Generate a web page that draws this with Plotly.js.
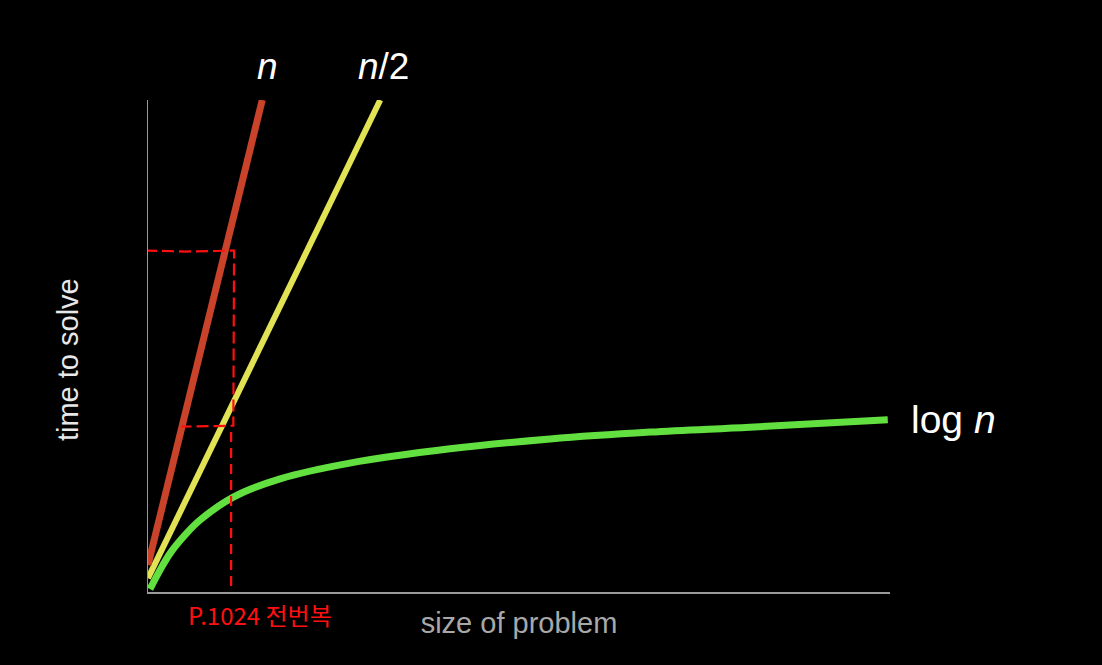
<!DOCTYPE html>
<html>
<head>
<meta charset="utf-8">
<script src="https://cdn.plot.ly/plotly-3.0.1.min.js"></script>
<style>html,body{margin:0;padding:0;background:#000;}#chart{width:1102px;height:665px;}</style>
</head>
<body>
<div id="chart"></div>
<script>
// Linear series (endpoints)
const nX = [0, 15.4];
const nY = [5.5, 100];
const halfX = [0, 31.3];
const halfY = [2.8, 100];
// log n curve
const logX = [0.27, 1.6, 3.0, 5.0, 7.0, 11.5, 17.8, 27.2, 40.7, 54.2, 67.7, 81.1, 99.7];
const logY = [0.6, 4.4, 7.9, 11.6, 14.6, 19.3, 23.0, 26.2, 29.1, 31.1, 32.5, 33.5, 35.0];
// hand-drawn red dashed marks
const markBoxX = [-0.4, 5, 11.6, 11.6, 11.5, 4.5];
const markBoxY = [69.4, 69.2, 69.4, 36, 33.8, 33.6];
const markDropX = [11.2, 11.2];
const markDropY = [32.5, 0];
const labels = ["<i>n</i>", "<i>n</i>/2", "log <i>n</i>"];
const xTitle = "size of problem";
const yTitle = "time to solve";
const handNote = "P.1024 전번복";

const font = "Liberation Sans, Arial, sans-serif";
const traces = [
  {x: halfX, y: halfY, mode: "lines", line: {color: "#e2e255", width: 6}, hoverinfo: "skip"},
  {x: nX, y: nY, mode: "lines", line: {color: "#c9432a", width: 7}, hoverinfo: "skip"},
  {x: logX, y: logY, mode: "lines", line: {color: "#62e040", width: 7, shape: "spline", smoothing: 1}, hoverinfo: "skip"},
  {x: markBoxX, y: markBoxY, mode: "lines", line: {color: "#ff1010", width: 2.2, dash: "12px,5px"}, hoverinfo: "skip"},
  {x: markDropX, y: markDropY, mode: "lines", line: {color: "#ff1010", width: 2.2, dash: "10px,6px"}, hoverinfo: "skip"}
];
const layout = {
  width: 1102, height: 665,
  paper_bgcolor: "#000", plot_bgcolor: "#000",
  showlegend: false,
  margin: {l: 148, r: 212, t: 100, b: 73},
  xaxis: {range: [0, 100], showgrid: false, zeroline: false, showticklabels: false, ticks: "",
          showline: true, linecolor: "#9a9a9a", linewidth: 1.5,
          title: {text: xTitle, font: {family: font, size: 29, color: "#a8a8a8"}, standoff: 20}},
  yaxis: {range: [0, 100], showgrid: false, zeroline: false, showticklabels: false, ticks: "",
          showline: true, linecolor: "#9a9a9a", linewidth: 1.5},
  annotations: [
    {x: -0.1078, y: 0.4715, xref: "paper", yref: "paper", xanchor: "center", yanchor: "middle", textangle: -90, text: yTitle, showarrow: false, font: {family: font, size: 29, color: "#e8e8e8"}},
    {x: 0.1617, y: 1.069, xref: "paper", yref: "paper", xanchor: "center", yanchor: "middle", text: labels[0], showarrow: false, font: {family: font, size: 37, color: "#fff"}},
    {x: 0.318, y: 1.069, xref: "paper", yref: "paper", xanchor: "center", yanchor: "middle", text: labels[1], showarrow: false, font: {family: font, size: 37, color: "#fff"}},
    {x: 1.025, y: 0.35, xref: "paper", yref: "paper", xanchor: "left", yanchor: "middle", text: labels[2], showarrow: false, font: {family: font, size: 39, color: "#fff"}},
    {x: 0.151, y: -0.046, xref: "paper", yref: "paper", xanchor: "center", yanchor: "middle", text: handNote, showarrow: false, font: {family: "Noto Sans CJK KR", size: 24, color: "#ff1010"}}
  ]
};
Plotly.newPlot("chart", traces, layout, {staticPlot: true, displayModeBar: false});
</script>
</body>
</html>
